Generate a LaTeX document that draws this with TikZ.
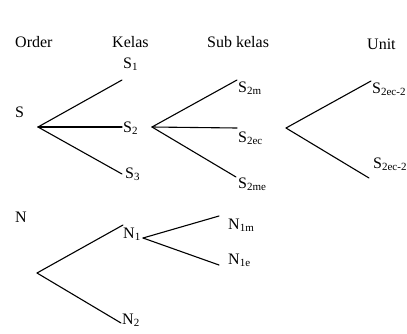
\documentclass[tikz,border=0pt]{standalone}
\usepackage{fontspec}
\setmainfont{Liberation Serif}
\newcommand{\sbx}[1]{\raisebox{-2pt}{\fontsize{11}{11}\selectfont #1}}
\begin{document}
\begin{tikzpicture}[x=1pt,y=-1pt,
  lbl/.style={anchor=base west, inner sep=0pt, font=\fontsize{16}{16}\selectfont},
  br/.style={line width=1.1pt, line cap=round}]
\useasboundingbox (0,0) rectangle (407,333);
% headings
\node[lbl] (hOrder) at (15,47) {Order};
\node[lbl] (hKelas) at (112,47) {Kelas};
\node[lbl] (hSub) at (207,47) {Sub kelas};
\node[lbl] (hUnit) at (367,49) {Unit};
% S tree
\node[lbl] (S) at (15,117) {S};
\coordinate (sroot) at (38,127);
\coordinate (s1e) at (122,80);
\coordinate (s2e) at (122,127);
\coordinate (s3e) at (122,174);
\node[lbl] (S1) at (123,68) {S\sbx{1}};
\node[lbl] (S2) at (123,132) {S\sbx{2}};
\node[lbl] (S3) at (125,178) {S\sbx{3}};
\draw[br] (sroot) -- (s1e);
\draw[br] (sroot) -- (s2e);
\draw[br] (sroot) -- (s3e);
% sub kelas
\coordinate (skroot) at (152,127);
\coordinate (s2me) at (237,80);
\coordinate (s2ece) at (237,128);
\coordinate (s2mee) at (236,177);
\node[lbl] (S2m) at (238,92) {S\sbx{2m}};
\node[lbl] (S2ec) at (238,142) {S\sbx{2ec}};
\node[lbl] (S2me) at (238,188) {S\sbx{2me}};
\draw[br] (skroot) -- (s2me);
\draw[br] (skroot) -- (s2ece);
\draw[br] (skroot) -- (s2mee);
% unit
\coordinate (uroot) at (286,128);
\coordinate (u1e) at (371,81);
\coordinate (u2e) at (369,178);
\node[lbl] (U1) at (372,93) {S\sbx{2ec-2}};
\node[lbl] (U2) at (373,168) {S\sbx{2ec-2}};
\draw[br] (uroot) -- (u1e);
\draw[br] (uroot) -- (u2e);
% N tree
\node[lbl] (N) at (15,222) {N};
\coordinate (nroot) at (37,273);
\coordinate (n1e) at (123,225);
\coordinate (n2e) at (121,323);
\node[lbl] (N1) at (123,238) {N\sbx{1}};
\node[lbl] (N2) at (122,324) {N\sbx{2}};
\draw[br] (nroot) -- (n1e);
\draw[br] (nroot) -- (n2e);
\coordinate (n1root) at (143,238);
\coordinate (n1me) at (219,216);
\coordinate (n1ee) at (219,265);
\node[lbl] (N1m) at (228,229) {N\sbx{1m}};
\node[lbl] (N1e) at (228,264) {N\sbx{1e}};
\draw[br] (n1root) -- (n1me);
\draw[br] (n1root) -- (n1ee);
\end{tikzpicture}
\end{document}
